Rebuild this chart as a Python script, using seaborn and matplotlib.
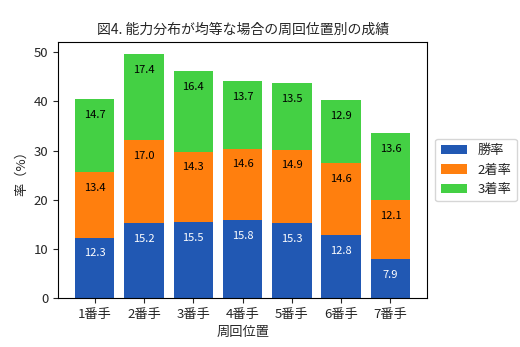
import matplotlib
matplotlib.use("Agg")
import matplotlib.pyplot as plt
import seaborn as sns
import numpy as np
import pandas as pd

categories = ["1番手", "2番手", "3番手", "4番手", "5番手", "6番手", "7番手"]
win = [12.3, 15.2, 15.5, 15.8, 15.3, 12.8, 7.9]
second = [13.4, 17.0, 14.3, 14.6, 14.9, 14.6, 12.1]
third = [14.7, 17.4, 16.4, 13.7, 13.5, 12.9, 13.6]
series_names = ["勝率", "2着率", "3着率"]
colors = ["#2158b3", "#ff7f0e", "#44d044"]

sns.set_style("ticks")
plt.rcParams['font.family'] = ['Noto Sans CJK JP', 'DejaVu Sans']

fig = plt.figure(figsize=(5.2, 3.47), dpi=100)
ax = fig.add_axes([0.112, 0.141, 0.709, 0.738])

df = pd.DataFrame({"cat": categories, "win": win, "second": second, "third": third})
b2 = np.array(win)
b3 = np.array(win) + np.array(second)

sns.barplot(data=df, x="cat", y="win", color=colors[0], ax=ax, label=series_names[0],
            saturation=1, width=0.8, linewidth=0)
sns.barplot(data=df, x="cat", y="second", color=colors[1], ax=ax, label=series_names[1],
            saturation=1, width=0.8, bottom=b2, linewidth=0)
sns.barplot(data=df, x="cat", y="third", color=colors[2], ax=ax, label=series_names[2],
            saturation=1, width=0.8, bottom=b3, linewidth=0)

label_colors = ["white", "black", "black"]
for cont, lc, vals in zip(ax.containers, label_colors, [win, second, third]):
    ax.bar_label(cont, labels=[f"{v:.1f}" for v in vals], label_type="edge",
                 padding=-15, color=lc, fontsize=8)

ax.set_xlim(-0.74, 6.74)
ax.set_ylim(0, 52.1)
ax.set_yticks([0, 10, 20, 30, 40, 50])
ax.set_xlabel("周回位置", fontsize=9.5)
ax.set_ylabel("率（%）", fontsize=9.5)
ax.set_title("図4. 能力分布が均等な場合の周回位置別の成績", fontsize=10)
ax.tick_params(labelsize=9.5)
for s in ax.spines.values():
    s.set_visible(True)
    s.set_color("black")
ax.legend(loc="center left", bbox_to_anchor=(1.005, 0.5), fontsize=9.5)

fig.savefig("out.png", dpi=100)
